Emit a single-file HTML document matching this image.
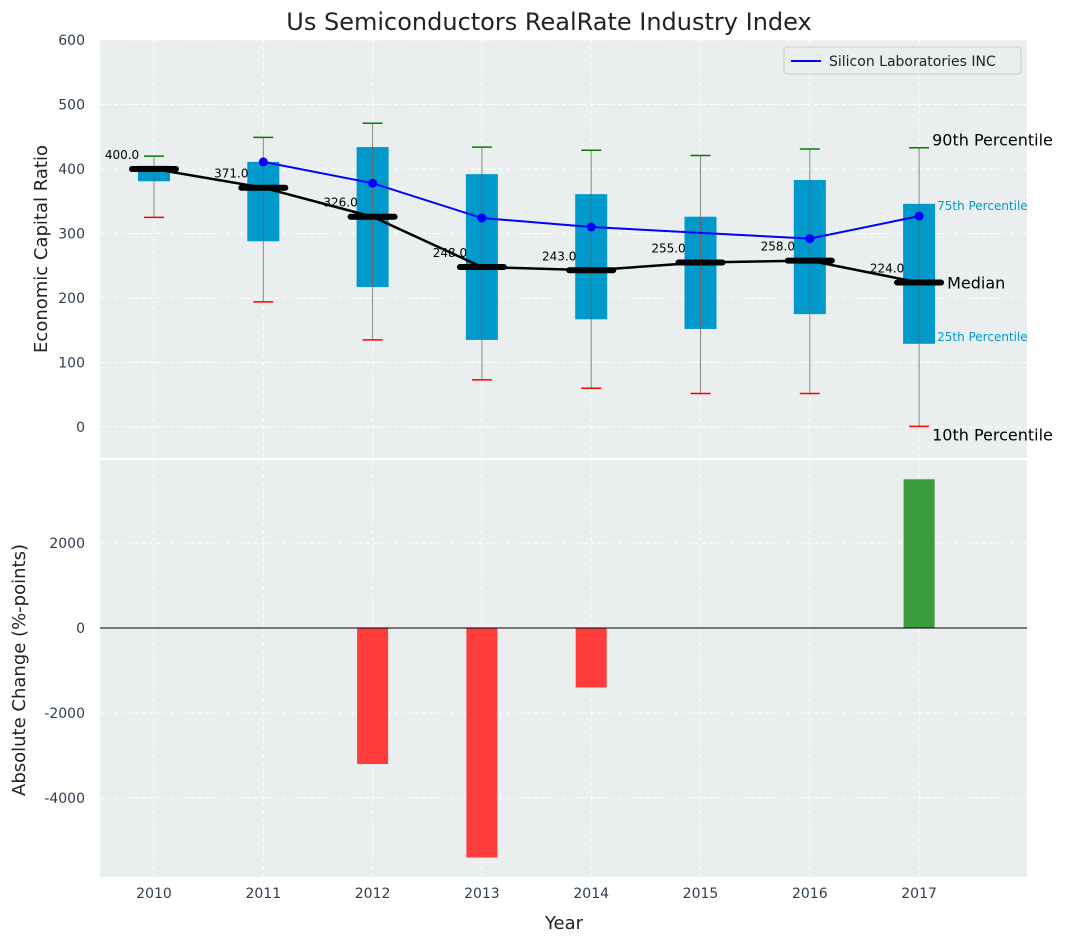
<!DOCTYPE html>
<html><head><meta charset="utf-8"><style>
body{margin:0;background:#fff;font-family:"Liberation Sans",sans-serif}
svg text{font-family:"DejaVu Sans","Liberation Sans",sans-serif}
</style></head><body>
<svg id="c" width="1067" height="942"></svg>
<script>
const years=[2010,2011,2012,2013,2014,2015,2016,2017];
const q1=[381,288,217,135,167,152,175,129];
const q3=[405,411,434,392,361,326,383,346];
const lowW=[325,194,135,73,60,52,52,1];
const highW=[420,449,471,434,429,421,431,433];
const medians=[400,371,326,248,243,255,258,224];
const companyYears=[2011,2012,2013,2014,2015,2016,2017];
const companyVals=[411,378,324,310,301,292,327];
const changeYears=[2012,2013,2014,2017];
const changeVals=[-3200,-5400,-1400,3500];
const topTicks=[0,100,200,300,400,500,600];
const botTicks=[-4000,-2000,0,2000];

const NS="http://www.w3.org/2000/svg",svg=document.getElementById('c');
function mk(t,a,p){const e=document.createElementNS(NS,t);for(const k in a)e.setAttribute(k,a[k]);(p||svg).appendChild(e);return e;}
const L=100,R=1027,T1=40,B1=458,T2=460,B2=877;
const x=v=>154+(v-2010)*109.3;
const y1=v=>427-v*0.645;
const y2=v=>628-v*0.0425;
let e;
e=mk('rect',{x:L,y:T1,width:R-L,height:B1-T1,fill:'#eaeeef'});

e=mk('rect',{x:L,y:T2,width:R-L,height:B2-T2,fill:'#eaeeef'});

// grids
years.forEach(v=>{[[T1,B1],[T2,B2]].forEach(r=>{mk('line',{x1:x(v),x2:x(v),y1:r[0],y2:r[1],stroke:'#fff','stroke-dasharray':'4,3'});});
 e=mk('text',{x:x(v),y:898,'text-anchor':'middle','font-size':14,fill:'#2f3e50'});e.textContent=v;
 });
topTicks.forEach(v=>{mk('line',{x1:L,x2:R,y1:y1(v),y2:y1(v),stroke:'#fff','stroke-dasharray':'4,3'});
 e=mk('text',{x:85,y:y1(v)+5,'text-anchor':'end','font-size':14,fill:'#2f3e50'});e.textContent=v;
 });
botTicks.forEach(v=>{mk('line',{x1:L,x2:R,y1:y2(v),y2:y2(v),stroke:'#fff','stroke-dasharray':'4,3'});
 e=mk('text',{x:85,y:y2(v)+5,'text-anchor':'end','font-size':14,fill:'#2f3e50'});e.textContent=v;
 });
// boxes
years.forEach((v,i)=>{const cx=x(v);
 mk('line',{x1:cx,x2:cx,y1:y1(highW[i]),y2:y1(lowW[i]),stroke:'#888','stroke-width':1});
 e=mk('rect',{x:cx-16,y:y1(q3[i]),width:32,height:y1(q1[i])-y1(q3[i]),fill:'#0099cc'});
 
 mk('line',{x1:cx,x2:cx,y1:y1(q3[i]),y2:y1(q1[i]),stroke:'#666','stroke-width':1});
 mk('line',{x1:cx-10,x2:cx+10,y1:y1(highW[i]),y2:y1(highW[i]),stroke:'green','stroke-width':1.5});
 mk('line',{x1:cx-10,x2:cx+10,y1:y1(lowW[i]),y2:y1(lowW[i]),stroke:'red','stroke-width':1.5});
});
// median line
e=mk('polyline',{points:years.map((v,i)=>x(v)+','+y1(medians[i])).join(' '),fill:'none',stroke:'#000','stroke-width':2.5});

years.forEach((v,i)=>{mk('line',{x1:x(v)-22,x2:x(v)+22,y1:y1(medians[i]),y2:y1(medians[i]),stroke:'#000','stroke-width':6,'stroke-linecap':'round'});
 e=mk('text',{x:x(v)-32,y:y1(medians[i])-10,'text-anchor':'middle','font-size':12,fill:'#000'});e.textContent=medians[i].toFixed(1);
 });
// company
e=mk('polyline',{points:companyYears.map((v,i)=>x(v)+','+y1(companyVals[i])).join(' '),fill:'none',stroke:'#0000ff','stroke-width':2});

companyYears.forEach((v,i)=>{if(v!==2015){e=mk('circle',{cx:x(v),cy:y1(companyVals[i]),r:4.5,fill:'#0000ff'});
 }});
// annotations
const li=7,ax=x(2017);
[['90th Percentile',y1(highW[li])-2,16,'#000',13],['75th Percentile',y1(q3[li])+6,12,'#0099cc',18],['Median',y1(medians[li])+6,16,'#000',28],['25th Percentile',y1(q1[li])-3,12,'#0099cc',18],['10th Percentile',y1(lowW[li])+14,16,'#000',13]].forEach(a=>{
 e=mk('text',{x:ax+a[4],y:a[1],'font-size':a[2],fill:a[3]});e.textContent=a[0];
 });
// bars
changeYears.forEach((v,i)=>{const val=changeVals[i];
 e=mk('rect',{x:x(v)-15.5,y:Math.min(y2(0),y2(val)),width:31,height:Math.abs(y2(val)-y2(0)),fill:val<0?'#ff3c3c':'#3a9c3a'});
 });
mk('line',{x1:L,x2:R,y1:y2(0),y2:y2(0),stroke:'#000','stroke-width':1});
// legend
e=mk('g',{});
mk('rect',{x:784,y:47,width:237,height:27,rx:3,fill:'#eaeeef',stroke:'#ccc'},e);
mk('line',{x1:791,x2:821,y1:61,y2:61,stroke:'#0000ff','stroke-width':2},e);
let t=mk('text',{x:829,y:66,'font-size':14,fill:'#222'},e);t.textContent='Silicon Laboratories INC';
// titles
e=mk('text',{x:549,y:30,'text-anchor':'middle','font-size':24,fill:'#222'});e.textContent='Us Semiconductors RealRate Industry Index';

e=mk('text',{x:564,y:929,'text-anchor':'middle','font-size':18,fill:'#222'});e.textContent='Year';

e=mk('text',{x:0,y:0,'text-anchor':'middle','font-size':18,fill:'#222',transform:'translate(47,249) rotate(-90)'});e.textContent='Economic Capital Ratio';

e=mk('text',{x:0,y:0,'text-anchor':'middle','font-size':18,fill:'#222',transform:'translate(25,670) rotate(-90)'});e.textContent='Absolute Change (%-points)';

</script></body></html>
